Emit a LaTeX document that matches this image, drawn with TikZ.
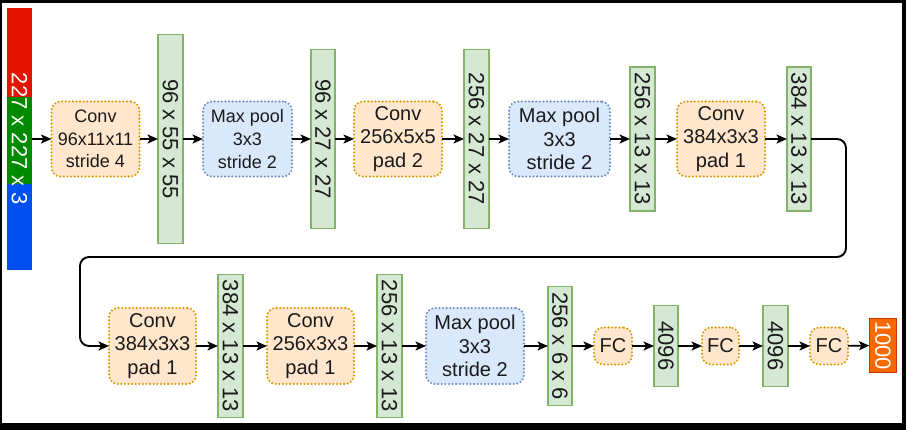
\documentclass[tikz,border=0pt]{standalone}
\usepackage{fontspec}
\setmainfont{Liberation Sans}
\usetikzlibrary{arrows.meta}
\definecolor{convfill}{HTML}{FFE6CC}
\definecolor{convdraw}{HTML}{D79B00}
\definecolor{poolfill}{HTML}{DAE8FC}
\definecolor{pooldraw}{HTML}{6C8EBF}
\definecolor{barfill}{HTML}{D5E8D4}
\definecolor{bardraw}{HTML}{82B366}
\definecolor{inred}{HTML}{E51400}
\definecolor{ingreen}{HTML}{008A00}
\definecolor{inblue}{HTML}{0050EF}
\definecolor{outfill}{HTML}{FA6800}
\definecolor{outdraw}{HTML}{C73500}
\definecolor{txt}{HTML}{1A1A1A}
\begin{document}
\begin{tikzpicture}[x=1pt,y=-1pt,
  box/.style={line width=2.3pt, dash pattern=on 0pt off 3.6pt, line cap=round,
    rounded corners=9pt, inner sep=0pt, outer sep=0pt, align=center, text=txt,
    font=\fontsize{20}{23.3}\selectfont},
  conv/.style={box, draw=convdraw, fill=convfill},
  pool/.style={box, draw=pooldraw, fill=poolfill},
  small/.style={font=\fontsize{18}{22.7}\selectfont},
  bar/.style={draw=bardraw, fill=barfill, line width=1.8pt, inner sep=0pt, outer sep=0pt,
    text=txt, font=\fontsize{22}{22}\selectfont},
  arr/.style={-{Stealth[length=10.5pt,width=9pt,inset=2.5pt]}, line width=1.6pt, black}
]
\fill[black] (0,0) rectangle (906,430);
\fill[white] (2,3) rectangle (902,423);
\useasboundingbox (0,0) rectangle (906,430);

% input bar
\fill[inred] (7,8) rectangle (32,97);
\fill[ingreen] (7,97) rectangle (32,184);
\fill[inblue] (7,184) rectangle (32,270);
\node[inner sep=0pt, outer sep=0pt, minimum width=25pt, minimum height=262pt, text=white,
  font=\fontsize{22}{22}\selectfont] (in) at (19.5,139) {\rotatebox[origin=c]{-90}{227 x 227 x 3}};

% top row
\node[conv, small, minimum width=88pt, minimum height=75pt] (c1) at (95.5,139) {Conv\\96x11x11\\stride 4};
\node[bar, minimum width=25pt, minimum height=209pt] (b1) at (170.5,139) {\rotatebox[origin=c]{-90}{96 x 55 x 55}};
\node[pool, small, minimum width=89pt, minimum height=75pt] (p1) at (247.5,139) {Max pool\\3x3\\stride 2};
\node[bar, minimum width=24pt, minimum height=179pt] (b2) at (323,139) {\rotatebox[origin=c]{-90}{96 x 27 x 27}};
\node[conv, minimum width=88pt, minimum height=75pt] (c2) at (398,139) {Conv\\256x5x5\\pad 2};
\node[bar, minimum width=25pt, minimum height=179pt] (b3) at (476.5,139) {\rotatebox[origin=c]{-90}{256 x 27 x 27}};
\node[pool, minimum width=101pt, minimum height=75pt] (p2) at (559.5,139) {Max pool\\3x3\\stride 2};
\node[bar, minimum width=25pt, minimum height=144pt] (b4) at (642.5,139) {\rotatebox[origin=c]{-90}{256 x 13 x 13}};
\node[conv, minimum width=88pt, minimum height=75pt] (c3) at (721,139) {Conv\\384x3x3\\pad 1};
\node[bar, minimum width=24pt, minimum height=144pt] (b5) at (799,139) {\rotatebox[origin=c]{-90}{384 x 13 x 13}};

% bottom row
\node[conv, minimum width=87pt, minimum height=76pt] (c4) at (152.5,346) {Conv\\384x3x3\\pad 1};
\node[bar, minimum width=25pt, minimum height=143pt] (b6) at (230.5,346) {\rotatebox[origin=c]{-90}{384 x 13 x 13}};
\node[conv, minimum width=87pt, minimum height=76pt] (c5) at (310.5,346) {Conv\\256x3x3\\pad 1};
\node[bar, minimum width=25pt, minimum height=143pt] (b7) at (389.5,346) {\rotatebox[origin=c]{-90}{256 x 13 x 13}};
\node[pool, minimum width=98pt, minimum height=76pt] (p3) at (475,346) {Max pool\\3x3\\stride 2};
\node[bar, minimum width=24pt, minimum height=119pt] (b8) at (560,346) {\rotatebox[origin=c]{-90}{256 x 6 x 6}};
\node[conv, minimum width=38pt, minimum height=37pt] (f1) at (613,346) {FC};
\node[bar, minimum width=24pt, minimum height=81pt] (b9) at (666,346) {\rotatebox[origin=c]{-90}{4096}};
\node[conv, minimum width=37pt, minimum height=37pt] (f2) at (720.5,346) {FC};
\node[bar, minimum width=25pt, minimum height=81pt] (b10) at (775.5,346) {\rotatebox[origin=c]{-90}{4096}};
\node[conv, minimum width=38pt, minimum height=37pt] (f3) at (829,346) {FC};
\node[draw=outdraw, fill=outfill, line width=1.2pt, inner sep=0pt, outer sep=0pt, text=white,
  font=\fontsize{22}{22}\selectfont, minimum width=27pt, minimum height=54pt] (out) at (883,345.5)
  {\rotatebox[origin=c]{-90}{1000}};

% arrows top
\draw[arr] (in) -- (c1);
\draw[arr] (c1) -- (b1);
\draw[arr] (b1) -- (p1);
\draw[arr] (p1) -- (b2);
\draw[arr] (b2) -- (c2);
\draw[arr] (c2) -- (b3);
\draw[arr] (b3) -- (p2);
\draw[arr] (p2) -- (b4);
\draw[arr] (b4) -- (c3);
\draw[arr] (c3) -- (b5);

% loop
\coordinate (cR) at (846,257);
\coordinate (cL) at (80,346);
\draw[arr, line width=1.9pt, rounded corners=9pt] (b5.east) -| (cR) -| (cL) -- (c4.west);

% arrows bottom
\draw[arr] (c4) -- (b6);
\draw[arr] (b6) -- (c5);
\draw[arr] (c5) -- (b7);
\draw[arr] (b7) -- (p3);
\draw[arr] (p3) -- (b8);
\draw[arr] (b8) -- (f1);
\draw[arr] (f1) -- (b9);
\draw[arr] (b9) -- (f2);
\draw[arr] (f2) -- (b10);
\draw[arr] (b10) -- (f3);
\draw[arr] (f3) -- (out);
\end{tikzpicture}
\end{document}
